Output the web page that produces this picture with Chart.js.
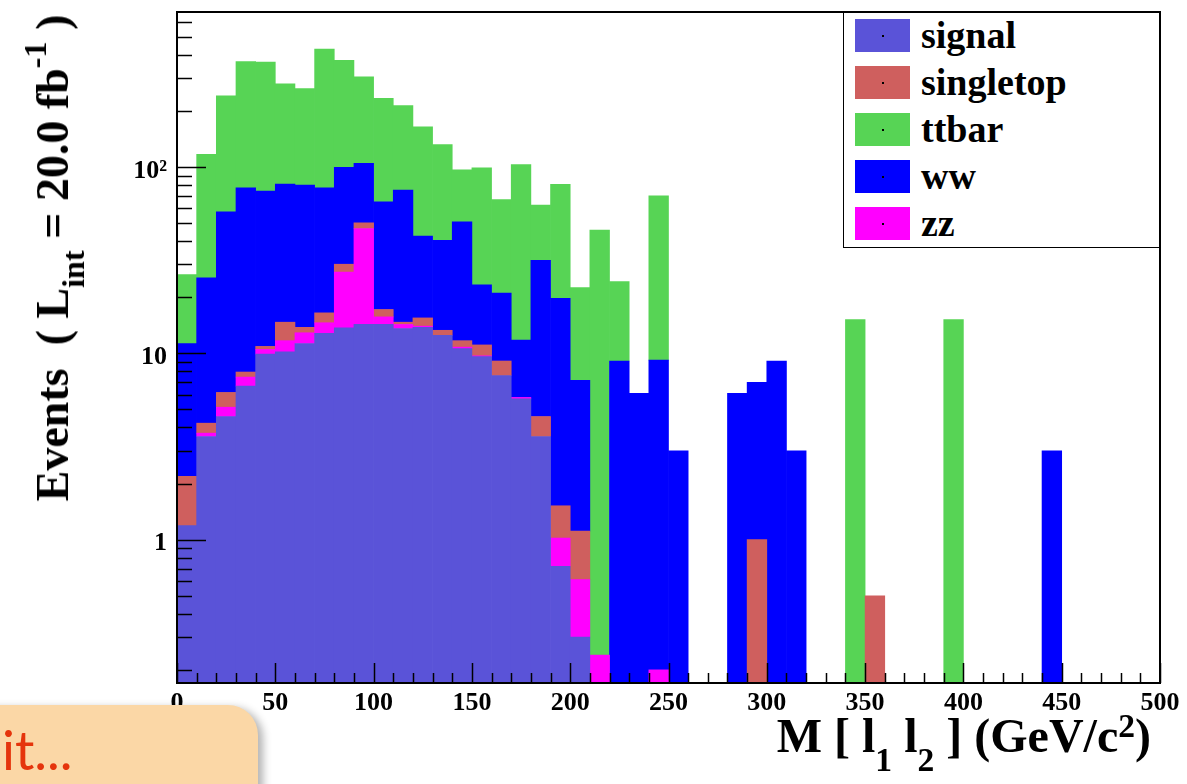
<!DOCTYPE html>
<html>
<head>
<meta charset="utf-8">
<script src="https://cdn.jsdelivr.net/npm/chart.js@4.4.0/dist/chart.umd.min.js"></script>
<style>
  body { margin: 0; background: #fff; }
  #wrap { position: relative; width: 1187px; height: 784px; overflow: hidden; }
  #chart { position: absolute; left: 0; top: 0; }
  .serif { font-family: 'Liberation Serif', 'Times New Roman', serif; font-weight: bold; color: #000; white-space: nowrap; }
  #legend { position: absolute; left: 843px; top: 12px; width: 315px; height: 234px; border: 1.5px solid #000; background: #fff; }
  .row { position: absolute; left: 11px; height: 33px; display: flex; align-items: center; }
  .sw { width: 55px; height: 33px; margin-right: 11px; position: relative; }
  .sw::after { content: ""; position: absolute; left: 27px; top: 16px; width: 2px; height: 2px; background: #000; }
  .row span { font-size: 38px; line-height: 33px; }
  #ytitle { position: absolute; left: 55px; top: 258px; font-size: 46px; line-height: 46px;
            transform: translate(-50%, -50%) rotate(-90deg); }
  #xtitle { position: absolute; right: 36px; top: 712px; font-size: 48px; line-height: 48px; }
  .sub { position: relative; font-size: 0.7em; }
  #note { position: absolute; left: -20px; top: 705px; width: 278px; height: 110px; background: #fbd7a6;
          border-radius: 0 30px 0 0; box-shadow: 5px 3px 8px rgba(0,0,0,0.3);
          font-family: Lato, 'Open Sans', sans-serif; font-size: 54px; color: #e5340c; }
  #note span { position: absolute; left: 22px; top: 18px; line-height: 54px; }
</style>
</head>
<body>
<div id="wrap">
  <canvas id="chart" width="1187" height="784"></canvas>
  <div id="legend" class="serif"></div>
  <div id="ytitle" class="serif">Events&nbsp; ( L<span class="sub" style="top:16px">int</span> = 20.0 fb<span class="sub" style="top:-22px">-1</span> )</div>
  <div id="xtitle" class="serif">M [ l<span class="sub" style="top:19px">1</span> l<span class="sub" style="top:19px">2</span> ] (GeV/c<span class="sub" style="top:-15px">2</span>)</div>
  <div id="note"><span>it...</span></div>
</div>
<script>
// bins of 10 GeV, centres
const binCenters = [5, 15, 25, 35, 45, 55, 65, 75, 85, 95,
  105, 115, 125, 135, 145, 155, 165, 175, 185, 195,
  205, 215, 225, 235, 245, 255, 265, 275, 285, 295,
  305, 315, 325, 335, 345, 355, 365, 375, 385, 395,
  405, 415, 425, 435, 445, 455, 465, 475, 485, 495];

// events per bin, one array per process (stack order bottom -> top)
const signal = [1.19, 3.58, 4.58, 6.67, 9.9, 10.2, 11.3, 12.8, 13.7, 14.3,
  14.3, 13.6, 13.8, 12.5, 10.6, 9.6, 7.6, 5.7, 3.58, 0.72,
  0.30, 0, 0, 0, 0, 0, 0, 0, 0, 0,
  0, 0, 0, 0, 0, 0, 0, 0, 0, 0,
  0, 0, 0, 0, 0, 0, 0, 0, 0, 0];
const zz = [0, 0.15, 0.56, 0.79, 0.6, 1.5, 1.6, 1.8, 13.6, 32.5,
  1.4, 0.7, 0.2, 0, 0.2, 0.1, 0, 0.1, 0, 0.3,
  0.31, 0.24, 0, 0, 0.2, 0, 0, 0, 0, 0,
  0, 0, 0, 0, 0, 0, 0, 0, 0, 0,
  0, 0, 0, 0, 0, 0, 0, 0, 0, 0];
const singletop = [1.0, 0.49, 1.03, 0.48, 0.4, 3.0, 0.9, 1.9, 2.8, 3.4,
  1.5, 0.4, 1.5, 0.8, 0.9, 1.4, 1.5, 0, 1.0, 0.5,
  0.5, 0, 0, 0, 0, 0, 0, 0, 0, 1.0,
  0, 0, 0, 0, 0, 0.5, 0, 0, 0, 0,
  0, 0, 0, 0, 0, 0, 0, 0, 0, 0];
const ww = [9.1, 21.2, 51.3, 69.5, 63.4, 66.4, 66.2, 60.9, 69.5, 54.5,
  47.8, 60.5, 27.1, 27.2, 39.1, 12.2, 12.0, 6.0, 27.0, 18.2,
  6.05, 0, 9.1, 6.1, 9.0, 3.0, 0, 0, 6.1, 6.0,
  9.1, 3.0, 0, 0, 0, 0, 0, 0, 0, 0,
  0, 0, 0, 0, 3.0, 0, 0, 0, 0, 0];
const ttbar = [15.2, 91.6, 183.5, 290.6, 291.7, 199, 184, 352.6, 275, 200,
  169, 139, 122, 91.5, 46, 75.8, 45.9, 91.2, 30.9, 61,
  15.4, 45.6, 15.2, 0, 61, 0, 0, 0, 0, 0,
  0, 0, 0, 0, 15.2, 0, 0, 0, 0, 15.2,
  0, 0, 0, 0, 0, 0, 0, 0, 0, 0];

const yTicks = [1, 10, 100];
const xTicks = [0, 50, 100, 150, 200, 250, 300, 350, 400, 450, 500];

// stack: signal, zz, singletop, ww, ttbar
const stack = [
  { label: "signal", data: signal, color: "#5a53d8" },
  { label: "zz", data: zz, color: "#ff00ff" },
  { label: "singletop", data: singletop, color: "#cf5f5e" },
  { label: "ww", data: ww, color: "#0000ff" },
  { label: "ttbar", data: ttbar, color: "#57d455" }
];
const legendOrder = ["signal", "singletop", "ttbar", "ww", "zz"];

// legend (top right box)
const legendBox = document.getElementById("legend");
legendOrder.forEach((name, i) => {
  const s = stack.find(d => d.label === name);
  const row = document.createElement("div");
  row.className = "row";
  row.style.top = (5.5 + 47 * i) + "px";
  row.innerHTML = '<div class="sw" style="background:' + s.color + '"></div><span>' + name + '</span>';
  legendBox.appendChild(row);
});

// ticks drawn inside the frame, ROOT style
const rootFrame = {
  id: "rootFrame",
  afterDatasetsDraw(chart) {
    const { ctx, chartArea: a, scales: { x, y } } = chart;
    ctx.save();
    ctx.strokeStyle = "#000";
    ctx.lineWidth = 1.5;
    ctx.beginPath();
    for (let d = 0.1; d <= 100; d *= 10) {
      for (let k = 1; k <= 9; k++) {
        const v = d * k;
        if (v < y.min || v > y.max) continue;
        const py = Math.round(y.getPixelForValue(v)) + 0.5;
        const len = k === 1 ? 29 : 15;
        ctx.moveTo(a.left, py);
        ctx.lineTo(a.left + len, py);
      }
    }
    for (let v = 0; v <= 500; v += 10) {
      const px = Math.round(x.getPixelForValue(v)) + 0.5;
      const len = v % 50 === 0 ? 20 : 10;
      ctx.moveTo(px, a.bottom);
      ctx.lineTo(px, a.bottom - len);
    }
    ctx.stroke();
    ctx.lineWidth = 2;
    ctx.strokeRect(a.left, a.top, a.right - a.left, a.bottom - a.top);
    ctx.restore();
  }
};

Chart.defaults.font.family = "'Liberation Serif', 'Times New Roman', serif";
Chart.defaults.font.weight = "bold";
Chart.defaults.color = "#000";

new Chart(document.getElementById("chart"), {
  type: "bar",
  data: {
    labels: binCenters,
    datasets: stack.map(s => ({
      label: s.label,
      data: s.data,
      backgroundColor: s.color,
      borderWidth: 0,
      barPercentage: 1,
      categoryPercentage: 1
    }))
  },
  options: {
    responsive: false,
    animation: false,
    layout: { padding: { left: 0, right: 27, top: 12, bottom: 0 } },
    plugins: { legend: { display: false }, tooltip: { enabled: false } },
    scales: {
      x: {
        type: "linear",
        min: 0,
        max: 500,
        offset: false,
        stacked: true,
        grid: { display: false, drawTicks: false },
        border: { display: false },
        afterBuildTicks: s => { s.ticks = xTicks.map(v => ({ value: v })); },
        afterFit: s => { s.height = 101; s.paddingLeft = 0; s.paddingRight = 0; },
        ticks: { font: { size: 26 }, padding: 5, maxRotation: 0, autoSkip: false }
      },
      y: {
        type: "logarithmic",
        min: 0.17,
        max: 680,
        stacked: true,
        grid: { display: false, drawTicks: false },
        border: { display: false },
        afterBuildTicks: s => { s.ticks = yTicks.map(v => ({ value: v })); },
        afterFit: s => { s.width = 177; s.paddingTop = 0; s.paddingBottom = 0; },
        ticks: {
          font: { size: 26 },
          padding: 10,
          labelOffset: 4,
          callback: v => (v === 100 ? "10\u00b2" : String(v))
        }
      }
    }
  },
  plugins: [rootFrame]
});
</script>
</body>
</html>
